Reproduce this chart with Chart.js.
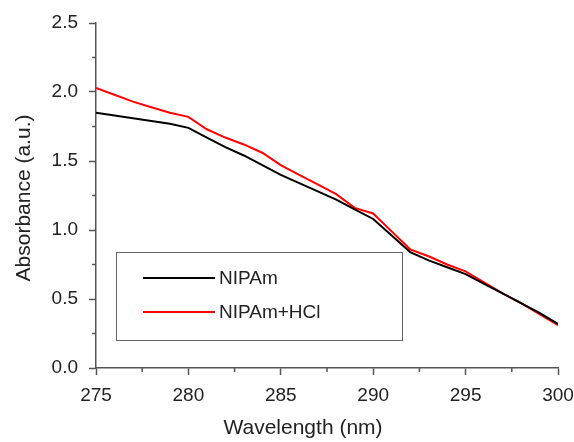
<!DOCTYPE html>
<html>
<head>
<meta charset="utf-8">
<script src="https://cdn.jsdelivr.net/npm/chart.js@4"></script>
<style>
  html, body { margin: 0; padding: 0; background: #fff; }
  #wrap { width: 574px; height: 442px; }
</style>
</head>
<body>
<div id="wrap"><canvas id="absChart" width="574" height="442"></canvas></div>
<script>
// UV absorbance of NIPAm with and without HCl

const wavelengths = [275, 276, 277, 278, 279, 280, 281, 282, 283, 284, 285, 286, 287,
                     288, 289, 290, 291, 292, 293, 294, 295, 296, 297, 298, 299, 300];
const nipam = [1.85, 1.83, 1.81, 1.79, 1.77, 1.74, 1.67, 1.60, 1.54, 1.47, 1.40, 1.34, 1.28,
               1.22, 1.15, 1.08, 0.96, 0.84, 0.78, 0.73, 0.68, 0.61, 0.54, 0.47, 0.40, 0.32];
const nipamHcl = [2.03, 1.98, 1.93, 1.89, 1.85, 1.82, 1.73, 1.67, 1.62, 1.56, 1.47, 1.40, 1.33,
                  1.26, 1.16, 1.12, 0.99, 0.86, 0.81, 0.75, 0.70, 0.62, 0.54, 0.47, 0.39, 0.31];
const seriesNames = ["NIPAm", "NIPAm+HCl"];
const xTitle = "Wavelength (nm)";
const yTitle = "Absorbance (a.u.)";

const FONT = "'Liberation Sans', Arial, sans-serif";
const AXIS = "#555555";
const TEXT = "#222222";

const toPoints = (ys) => wavelengths.map((x, i) => ({ x: x, y: ys[i] }));

/* ------------------------------
   minor ticks + axis titles
--------------------------------*/
const axisExtras = {
    id: "axisExtras",
    afterDraw(chart) {
        const ctx = chart.ctx;
        const xs = chart.scales.x, ys = chart.scales.y;
        ctx.save();
        ctx.strokeStyle = AXIS;
        ctx.lineWidth = 1.5;
        ctx.beginPath();
        for (let v = 277.5; v < 300; v += 5) {
            const px = xs.getPixelForValue(v);
            ctx.moveTo(px, xs.top);
            ctx.lineTo(px, xs.top + 4);
        }
        for (let v = 0.25; v < 2.5; v += 0.5) {
            const py = ys.getPixelForValue(v);
            ctx.moveTo(ys.right, py);
            ctx.lineTo(ys.right - 4, py);
        }
        ctx.stroke();

        ctx.fillStyle = TEXT;
        ctx.font = "21px " + FONT;
        ctx.textAlign = "center";
        ctx.textBaseline = "middle";
        ctx.fillText(xTitle, 303, 428);
        ctx.translate(24, 198);
        ctx.rotate(-Math.PI / 2);
        ctx.fillText(yTitle, 0, 0);
        ctx.restore();
    }
};

/* ------------------------------
   boxed legend inside the plot
--------------------------------*/
const boxLegend = {
    id: "boxLegend",
    afterDraw(chart) {
        const ctx = chart.ctx;
        ctx.save();
        ctx.strokeStyle = "#666";
        ctx.lineWidth = 1;
        ctx.strokeRect(116.5, 252.5, 286, 88);
        ctx.font = "19px " + FONT;
        ctx.textBaseline = "middle";
        chart.data.datasets.forEach((ds, i) => {
            const y = 278 + i * 34;
            ctx.strokeStyle = ds.borderColor;
            ctx.lineWidth = 2;
            ctx.beginPath();
            ctx.moveTo(143, y);
            ctx.lineTo(215, y);
            ctx.stroke();
            ctx.fillStyle = TEXT;
            ctx.fillText(ds.label, 219, y + 1);
        });
        ctx.restore();
    }
};

new Chart(document.getElementById("absChart"), {
    type: "line",
    data: {
        datasets: [
            { label: seriesNames[0], data: toPoints(nipam), borderColor: "#000000", borderWidth: 2, pointRadius: 0, tension: 0 },
            { label: seriesNames[1], data: toPoints(nipamHcl), borderColor: "#ff0000", borderWidth: 2, pointRadius: 0, tension: 0 }
        ]
    },
    options: {
        responsive: false,
        animation: false,
        layout: { padding: { top: 23, right: 16, left: 0, bottom: 0 } },
        plugins: {
            legend: { display: false },
            tooltip: { enabled: false }
        },
        scales: {
            x: {
                type: "linear",
                min: 275,
                max: 300,
                afterFit: (s) => { s.height = 74; s.paddingLeft = 0; s.paddingRight = 0; },
                ticks: { stepSize: 5, color: TEXT, padding: 9, maxRotation: 0, font: { family: FONT, size: 19 } },
                grid: { drawOnChartArea: false, drawTicks: true, tickLength: 7, tickColor: AXIS, tickWidth: 1.5 },
                border: { color: AXIS, width: 1.5 }
            },
            y: {
                min: 0,
                max: 2.5,
                afterFit: (s) => { s.width = 96; s.paddingTop = 0; s.paddingBottom = 0; },
                ticks: { stepSize: 0.5, color: TEXT, padding: 11, font: { family: FONT, size: 19 },
                         callback: (v) => v.toFixed(1) },
                grid: { drawOnChartArea: false, drawTicks: true, tickLength: 7, tickColor: AXIS, tickWidth: 1.5 },
                border: { color: AXIS, width: 1.5 }
            }
        }
    },
    plugins: [axisExtras, boxLegend]
});
</script>
</body>
</html>
